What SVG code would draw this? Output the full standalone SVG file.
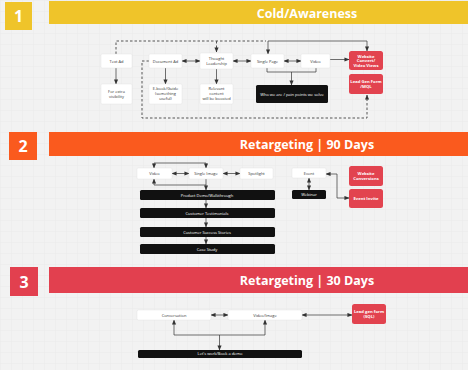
<svg xmlns="http://www.w3.org/2000/svg" width="468" height="370" viewBox="0 0 468 370">
<defs>
<pattern id="grid" width="11" height="11" patternUnits="userSpaceOnUse">
<path d="M11 0 L0 0 0 11" fill="none" stroke="#e4e4e4" stroke-width="0.5"/>
</pattern>
<marker id="ah" viewBox="0 0 6 6" refX="5.5" refY="3" markerWidth="5" markerHeight="5" orient="auto-start-reverse" markerUnits="userSpaceOnUse">
<path d="M0 0.5 L6 3 L0 5.5 Z" fill="#333"/>
</marker>
<style>
.t{font-family:"Open Sans","Liberation Sans",sans-serif;font-size:4px;fill:#333;text-anchor:middle}
.tw{font-family:"Open Sans","Liberation Sans",sans-serif;font-size:4px;fill:#fff;text-anchor:middle}
.tb{font-family:"Open Sans","Liberation Sans",sans-serif;font-size:4.2px;fill:#fff;text-anchor:middle;font-weight:bold}
.h{font-family:"Open Sans","Liberation Sans",sans-serif;font-size:12.5px;fill:#fff;text-anchor:middle;font-weight:bold}
.n{font-family:"Open Sans","Liberation Sans",sans-serif;font-size:16px;fill:#fff;text-anchor:middle;font-weight:bold}
.w{fill:#fff;stroke:#ddd;stroke-width:0.4}
.k{fill:#111}
.r{fill:#e2434f}
.c{fill:none;stroke:#333;stroke-width:0.7}
.d{fill:none;stroke:#555;stroke-width:1;stroke-dasharray:2.5 2}
</style>
</defs>
<rect width="468" height="370" fill="#f2f2f2"/>
<rect width="468" height="370" fill="url(#grid)"/>

<g id="sec1-header">
<rect x="5" y="2" width="27" height="28" fill="#efc42a"/>
<text class="n" x="18.5" y="22">1</text>
<rect x="49" y="1" width="419" height="23" fill="#efc42a"/>
<text class="h" x="307" y="17.5">Cold/Awareness</text>
</g>
<g id="sec2-header">
<rect x="9" y="132" width="28" height="28" fill="#fa5a1e"/>
<text class="n" x="23" y="152">2</text>
<rect x="49" y="132" width="419" height="24" fill="#fa5a1e"/>
<text class="h" x="307" y="148.5">Retargeting | 90 Days</text>
</g>
<g id="sec3-header">
<rect x="10" y="267" width="28" height="29" fill="#e2404f"/>
<text class="n" x="24" y="287.5">3</text>
<rect x="49" y="267" width="419" height="26" fill="#e2404f"/>
<text class="h" x="307" y="285">Retargeting | 30 Days</text>
</g>

<g id="connectors">
<!-- section 1 -->
<path class="d" d="M116 54 V41 H266"/>
<path class="d" d="M216.5 41 V52" marker-end="url(#ah)"/>
<path class="c" d="M268 54 V41 H367 V51" marker-start="url(#ah)" marker-end="url(#ah)"/>
<path class="d" d="M149 61 H142 V118 H367 V95" marker-end="url(#ah)"/>
<path class="c" d="M116 68 V84" marker-end="url(#ah)"/>
<path class="c" d="M165.5 68 V84" marker-end="url(#ah)"/>
<path class="c" d="M216.5 68 V84" marker-end="url(#ah)"/>
<path class="c" d="M182 61 H200" marker-start="url(#ah)" marker-end="url(#ah)"/>
<path class="c" d="M233 61 H251" marker-start="url(#ah)" marker-end="url(#ah)"/>
<path class="c" d="M284 61 H301" marker-start="url(#ah)" marker-end="url(#ah)"/>
<path class="c" d="M330 59.5 H349" marker-end="url(#ah)"/>
<path class="c" d="M267 68 V72 H316 V68"/>
<path class="c" d="M291.5 72 V85" marker-end="url(#ah)"/>
<!-- section 2 -->
<path class="c" d="M154 168 V163 H206 V168" marker-start="url(#ah)" marker-end="url(#ah)"/>
<path class="c" d="M172 173.5 H189" marker-start="url(#ah)" marker-end="url(#ah)"/>
<path class="c" d="M223 173.5 H240" marker-start="url(#ah)" marker-end="url(#ah)"/>
<path class="c" d="M154 179 V185 H206" marker-start="url(#ah)"/>
<path class="c" d="M206 179 V190" marker-end="url(#ah)"/>
<path class="c" d="M206 200 V208" marker-end="url(#ah)"/>
<path class="c" d="M206 218 V227" marker-end="url(#ah)"/>
<path class="c" d="M206 237 V244" marker-end="url(#ah)"/>
<path class="c" d="M309 178 V190" marker-start="url(#ah)" marker-end="url(#ah)"/>
<path class="c" d="M349 198 H337 V174 H326" marker-start="url(#ah)" marker-end="url(#ah)"/>
<!-- section 3 -->
<path class="c" d="M211 315 H228" marker-start="url(#ah)" marker-end="url(#ah)"/>
<path class="c" d="M302 315 H352" marker-start="url(#ah)" marker-end="url(#ah)"/>
<path class="c" d="M174 320 V335 H265 V320" marker-start="url(#ah)" marker-end="url(#ah)"/>
<path class="c" d="M219.5 335 V350" marker-end="url(#ah)"/>
</g>

<!-- section 1 nodes -->
<g id="text-ad"><rect class="w" x="101" y="54" width="31" height="14" rx="1"/><text class="t" x="116.5" y="62.5">Text Ad</text></g>
<g id="extra-visibility"><rect class="w" x="101" y="84" width="31" height="20" rx="1"/><text class="t" x="116.5" y="92.5">For extra</text><text class="t" x="116.5" y="97.5">visibility</text></g>
<g id="document-ad"><rect class="w" x="149" y="54" width="33" height="14" rx="1"/><text class="t" x="165.5" y="62.5">Document Ad</text></g>
<g id="ebook"><rect class="w" x="149" y="84" width="33" height="20" rx="1"/><text class="t" x="165.5" y="89.5">E-book/Guide</text><text class="t" x="165.5" y="94.5">(something</text><text class="t" x="165.5" y="99.5">useful)</text></g>
<g id="thought-leadership"><rect class="w" x="200" y="53" width="33" height="16" rx="1"/><text class="t" x="216.5" y="59.5">Thought</text><text class="t" x="216.5" y="64.5">Leadership</text></g>
<g id="relevant-content"><rect class="w" x="200" y="84" width="33" height="20" rx="1"/><text class="t" x="216.5" y="89.5">Relevant</text><text class="t" x="216.5" y="94.5">content</text><text class="t" x="216.5" y="99.5">will be boosted</text></g>
<g id="single-page"><rect class="w" x="251" y="54" width="33" height="14" rx="1"/><text class="t" x="267.5" y="62.5">Single Page</text></g>
<g id="video-1"><rect class="w" x="301" y="54" width="29" height="14" rx="1"/><text class="t" x="315.5" y="62.5">Video</text></g>
<g id="website-convert"><rect class="r" x="349" y="51" width="34" height="19" rx="2.5"/><text class="tb" x="366" y="57.5">Website</text><text class="tb" x="366" y="62.3">Convert/</text><text class="tb" x="366" y="67.1">Video Views</text></g>
<g id="lead-gen-mql"><rect class="r" x="349" y="74" width="34" height="20" rx="2.5"/><text class="tb" x="366" y="82.5">Lead Gen Form</text><text class="tb" x="366" y="87.5">/MQL</text></g>
<g id="who-we-are"><rect class="k" x="256" y="85" width="72" height="18" rx="1.5"/><text class="tw" x="292" y="95.5">Who we are / pain points we solve</text></g>

<!-- section 2 nodes -->
<g id="video-2"><rect class="w" x="137" y="168" width="35" height="11" rx="1"/><text class="t" x="154.5" y="175">Video</text></g>
<g id="single-image"><rect class="w" x="189" y="168" width="34" height="11" rx="1"/><text class="t" x="206" y="175">Single Image</text></g>
<g id="spotlight"><rect class="w" x="240" y="168" width="33" height="11" rx="1"/><text class="t" x="256.5" y="175">Spotlight</text></g>
<g id="product-demo"><rect class="k" x="140" y="190" width="135" height="10" rx="1.5"/><text class="tw" x="207" y="196.5">Product Demo/Walkthrough</text></g>
<g id="testimonials"><rect class="k" x="140" y="208" width="135" height="10" rx="1.5"/><text class="tw" x="207" y="214.5">Customer Testimonials</text></g>
<g id="success-stories"><rect class="k" x="140" y="227" width="135" height="10" rx="1.5"/><text class="tw" x="207" y="233.5">Customer Success Stories</text></g>
<g id="case-study"><rect class="k" x="140" y="244" width="135" height="10" rx="1.5"/><text class="tw" x="207" y="250.5">Case Study</text></g>
<g id="event"><rect class="w" x="292" y="168" width="34" height="10" rx="1"/><text class="t" x="309" y="174.5">Event</text></g>
<g id="webinar"><rect class="k" x="292" y="190" width="34" height="9" rx="1.5"/><text class="tw" x="309" y="196">Webinar</text></g>
<g id="website-conversions"><rect class="r" x="349" y="166" width="34" height="20" rx="2.5"/><text class="tb" x="366" y="174.5">Website</text><text class="tb" x="366" y="179.5">Conversions</text></g>
<g id="event-invite"><rect class="r" x="349" y="189" width="34" height="19" rx="2.5"/><text class="tb" x="366" y="199.5">Event Invite</text></g>

<!-- section 3 nodes -->
<g id="conversation"><rect class="w" x="137" y="310" width="74" height="10" rx="1.5"/><text class="t" x="174" y="316.5">Conversation</text></g>
<g id="video-image"><rect class="w" x="228" y="310" width="74" height="10" rx="1.5"/><text class="t" x="265" y="316.5">Video/Image</text></g>
<g id="lead-gen-sql"><rect class="r" x="352" y="304" width="34" height="20" rx="2.5"/><text class="tb" x="369" y="312.5">Lead gen form</text><text class="tb" x="369" y="317.5">(SQL)</text></g>
<g id="book-demo"><rect class="k" x="138" y="350" width="164" height="8" rx="1.5"/><text class="tw" x="220" y="355.3">Let's work/Book a demo</text></g>
</svg>
